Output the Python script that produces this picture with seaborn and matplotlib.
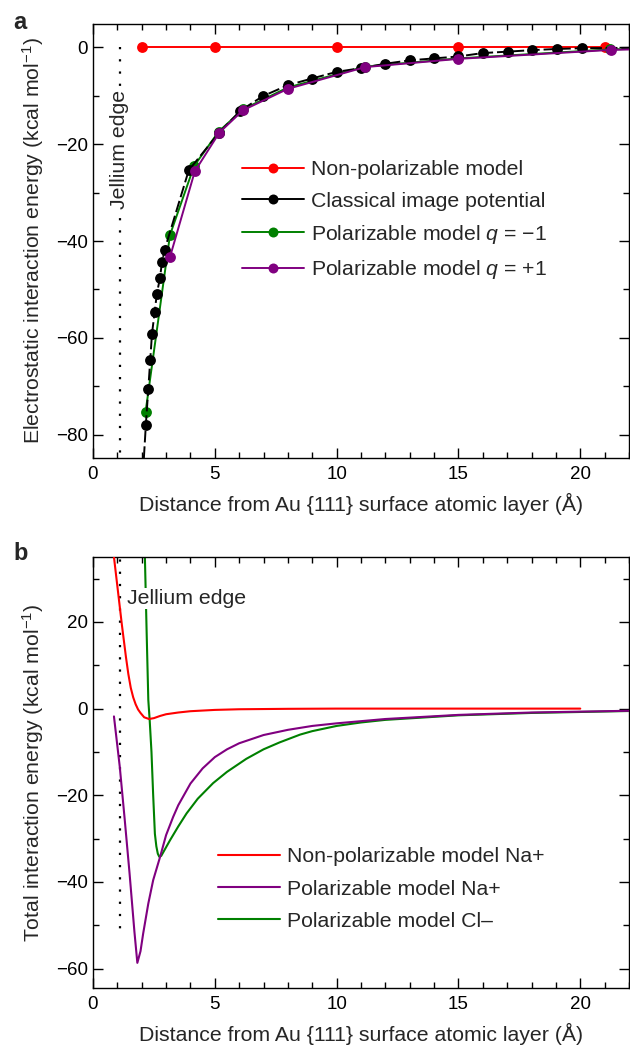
import numpy as np
import pandas as pd
import matplotlib
matplotlib.use("Agg")
import matplotlib.pyplot as plt
from matplotlib.ticker import MultipleLocator
import seaborn as sns

# ---------------- data: panel a ----------------
nonpol_x = [2, 5, 10, 15, 21]
nonpol_y = [0, 0, 0, 0, 0]

classic_x = [2.05, 2.17, 2.27, 2.35, 2.42, 2.53, 2.62, 2.75, 2.83, 2.94, 3.93, 5.18,
             6.05, 6.97, 7.99, 8.98, 10.01, 11.02, 12.0, 13.0, 14.0, 15.0, 16.0,
             17.05, 18.0, 19.06, 20.07, 22.5]
classic_y = [-88, -77.9, -70.5, -64.5, -59.2, -54.7, -50.9, -47.6, -44.4, -41.8, -25.4,
             -17.6, -13.1, -10.1, -7.85, -6.46, -5.07, -4.3, -3.4, -2.7, -2.3, -1.9,
             -1.2, -0.9, -0.6, -0.35, -0.2, -0.1]

polneg_x = [2.16, 3.16, 4.15, 5.16, 6.16, 8.0, 11.16, 15.0, 21.2, 22.5]
polneg_y = [-75.2, -38.75, -24.5, -17.4, -12.8, -8.3, -4.0, -2.3, -0.45, -0.3]

polpos_x = [3.16, 4.18, 5.19, 6.16, 7.99, 11.17, 15.0, 21.25, 22.5]
polpos_y = [-43.3, -25.6, -17.6, -13.0, -8.6, -4.1, -2.4, -0.55, -0.4]

# ---------------- data: panel b ----------------
nbna_x = [0.86, 1.02, 1.18, 1.35, 1.45, 1.55, 1.65, 1.75, 1.85, 1.95, 2.1, 2.3, 2.5,
          2.75, 3.0, 3.5, 4.0, 5.0, 6.0, 8.0, 10.0, 15.0, 20.0]
nbna_y = [35, 27.3, 19.6, 12.0, 8.0, 4.8, 2.6, 1.0, -0.2, -1.0, -2.0, -2.4, -2.2,
          -1.7, -1.3, -0.9, -0.6, -0.3, -0.15, -0.05, 0, 0, 0]

pna_x = [0.86, 1.1, 1.3, 1.5, 1.7, 1.82, 1.95, 2.06, 2.27, 2.47, 2.75, 3.0, 3.29,
         3.5, 4.0, 4.5, 5.0, 5.5, 6.0, 7.0, 8.0, 9.0, 10.0, 12.0, 15.0, 18.0, 22.5]
pna_y = [-1.8, -13.5, -25.5, -38.0, -51.5, -58.7, -56.0, -51.9, -45.0, -39.6, -34.3,
         -29.2, -25.0, -22.3, -17.3, -13.8, -11.2, -9.4, -8.0, -6.1, -4.9, -4.0,
         -3.4, -2.4, -1.45, -0.9, -0.45]

pcl_x = [2.13, 2.2, 2.27, 2.33, 2.4, 2.47, 2.54, 2.6, 2.66, 2.72, 2.8, 2.9, 3.16,
         3.5, 3.84, 4.3, 4.93, 5.5, 6.29, 7.0, 7.66, 8.5, 9.0, 10.0, 11.0, 12.0,
         15.0, 18.0, 22.5]
pcl_y = [35, 18, 2, -3, -10, -20, -28.9, -31.8, -33.5, -34.2, -34.0, -33.0, -30.4,
         -27.2, -24.2, -20.8, -17.2, -14.6, -11.6, -9.4, -7.8, -6.0, -5.2, -4.0,
         -3.2, -2.6, -1.55, -1.0, -0.5]

jellium_x = 1.1
xticks = [0, 5, 10, 15, 20]
yticks_a = [0, -20, -40, -60, -80]
yticks_b = [20, 0, -20, -40, -60]

# ---------------- style ----------------
sns.set_style("ticks")
plt.rcParams["font.family"] = ["Liberation Sans", "DejaVu Sans"]
plt.rcParams["mathtext.fontset"] = "custom"
plt.rcParams["mathtext.rm"] = "Liberation Sans"
plt.rcParams["mathtext.it"] = "Liberation Sans:italic"
plt.rcParams["axes.unicode_minus"] = True

RED = "#ff0000"
BLACK = "#000000"
GREEN = "#008000"
PURPLE = "#800080"

fig = plt.figure(figsize=(6.3, 10.46), dpi=100)
axA = fig.add_axes([93 / 630, 1 - 458 / 1046, 536 / 630, 434 / 1046])
axB = fig.add_axes([93 / 630, 1 - 988 / 1046, 536 / 630, 431 / 1046])

TICK_FS = 13.5
LABEL_FS = 15.3
LEG_FS = 15.3


def style_axes(ax, yt, ylim):
    ax.set_xlim(0, 22)
    ax.set_ylim(*ylim)
    ax.set_xticks(xticks)
    ax.set_yticks(yt)
    ax.xaxis.set_minor_locator(MultipleLocator(1))
    ax.yaxis.set_minor_locator(MultipleLocator(10))
    ax.tick_params(which="both", direction="in", top=True, right=True,
                   width=1.0, labelsize=TICK_FS, colors="black")
    ax.tick_params(which="major", length=7)
    ax.tick_params(which="minor", length=4)
    ax.tick_params(axis="x", which="major", pad=6)
    for s in ax.spines.values():
        s.set_visible(True)
        s.set_linewidth(1.0)
        s.set_color("black")
    ax.set_xlabel("Distance from Au {111} surface atomic layer (Å)",
                  fontsize=LABEL_FS, labelpad=7)


# ---------------- panel a ----------------
mk = dict(marker="o", markersize=7.8, markeredgewidth=0)
ax = axA
ax.plot([jellium_x, jellium_x], [0, -90], color="black", lw=1.6,
        linestyle=(0, (1, 4.5)), zorder=1)
sns.lineplot(x=nonpol_x, y=nonpol_y, ax=ax, color=RED, lw=1.4, sort=False,
             estimator=None, label="Non-polarizable model", zorder=3, **mk)
sns.lineplot(x=classic_x, y=classic_y, ax=ax, color=BLACK, lw=1.4, sort=False,
             estimator=None, label="Classical image potential", zorder=4,
             linestyle=(0, (6, 2)), **mk)
sns.lineplot(x=polneg_x, y=polneg_y, ax=ax, color=GREEN, lw=1.4, sort=False,
             estimator=None, label="Polarizable model $q$ = \u22121", zorder=3, **mk)
sns.lineplot(x=polpos_x, y=polpos_y, ax=ax, color=PURPLE, lw=1.4, sort=False,
             estimator=None, label="Polarizable model $q$ = +1", zorder=5, **mk)
style_axes(ax, yticks_a, (-84.8, 4.8))
ax.set_ylabel("Electrostatic interaction energy (kcal mol$^{-1}$)",
              fontsize=LABEL_FS, labelpad=7)
ax.text(jellium_x, -21.0, "Jellium edge", rotation=90, ha="center", va="center",
        fontsize=LEG_FS, bbox=dict(facecolor="white", edgecolor="none", pad=0.5),
        zorder=2)
leg = ax.legend(loc="upper left", bbox_to_anchor=(0.278, 0.686), frameon=False,
                borderaxespad=0, borderpad=0, fontsize=LEG_FS, handlelength=2.9,
                handletextpad=0.35, labelspacing=0.58, markerscale=0.92)
for ln in leg.get_lines():
    ln.set_linestyle("-")

# ---------------- panel b ----------------
ax = axB
ax.plot([jellium_x, jellium_x], [40, -53], color="black", lw=1.6,
        linestyle=(0, (1, 4.5)), zorder=1)
sns.lineplot(x=nbna_x, y=nbna_y, ax=ax, color=RED, lw=1.5, sort=False,
             estimator=None, label="Non-polarizable model Na+", zorder=3)
sns.lineplot(x=pna_x, y=pna_y, ax=ax, color=PURPLE, lw=1.5, sort=False,
             estimator=None, label="Polarizable model Na+", zorder=3)
sns.lineplot(x=pcl_x, y=pcl_y, ax=ax, color=GREEN, lw=1.5, sort=False,
             estimator=None, label="Polarizable model Cl\u2013", zorder=2)
style_axes(ax, yticks_b, (-64.5, 35))
ax.set_ylabel("Total interaction energy (kcal mol$^{-1}$)",
              fontsize=LABEL_FS, labelpad=7)
ax.text(1.38, 25.4, "Jellium edge", ha="left", va="center", fontsize=LEG_FS,
        bbox=dict(facecolor="white", edgecolor="none", pad=0.5), zorder=2.5)
ax.legend(loc="upper left", bbox_to_anchor=(0.233, 0.326), frameon=False,
          borderaxespad=0, borderpad=0, fontsize=LEG_FS, handlelength=2.9,
          handletextpad=0.35, labelspacing=0.62)

# panel letters
fig.text(13 / 630, 1 - 29 / 1046, "a", fontsize=17, fontweight="bold",
         ha="left", va="baseline")
fig.text(13 / 630, 1 - 560 / 1046, "b", fontsize=17, fontweight="bold",
         ha="left", va="baseline")

fig.savefig("out.png", dpi=100)
